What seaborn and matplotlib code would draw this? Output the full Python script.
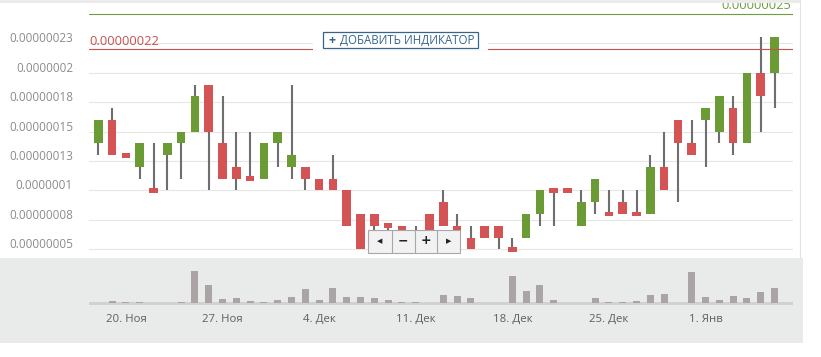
import numpy as np
import pandas as pd
import matplotlib
matplotlib.use("Agg")
import matplotlib.pyplot as plt
import seaborn as sns
from matplotlib.patches import Rectangle
from matplotlib.lines import Line2D
from matplotlib.transforms import ScaledTranslation

# daily candles, prices in units of 1e-8 (satoshi)
dates = pd.date_range("2017-11-18", periods=50, freq="D")
opens = [14, 16, 13.2, 12, 10.2, 13, 14, 15, 19, 14,
         12, 11.2, 11, 14, 12, 12, 11, 11, 10, 8,
         8, 7.2, 7, 6, 8, 9, 7, 6, 7, 7,
         5.2, 6, 8, 10.2, 10.2, 7, 9, 8.2, 9, 8.2,
         8, 12, 16, 14, 16, 15, 17, 14, 20, 20]
closes = [16, 13, 12.8, 14, 9.8, 14, 15, 18, 15, 11,
          11, 10.8, 14, 15, 13, 11, 10, 10, 7, 5,
          7, 6.8, 6, 5.5, 6, 7, 6, 5, 6, 6,
          4.8, 8, 10, 9.8, 9.8, 9, 11, 7.8, 8, 7.8,
          12, 10, 14, 13, 17, 18, 14, 20, 18, 23]
highs = [16, 17, 13.2, 14, 14, 14, 15, 19, 19, 18,
         15, 15, 14, 15, 19, 12, 11, 13, 10, 8,
         8, 7.2, 7, 7, 8, 10, 8, 7, 7, 7,
         6, 8, 10, 10.2, 10.2, 10, 11, 10, 10, 10,
         13, 15, 16, 16, 17, 18, 18, 20, 23, 23]
lows = [13, 13, 12.8, 11, 9.8, 10, 11, 15, 10, 11,
        10, 10.8, 11, 12, 11, 10, 10, 10, 7, 5,
        6, 6.5, 6, 5, 6, 7, 5.5, 5, 6, 5,
        4.8, 6, 7, 7, 9.8, 7, 8, 7.8, 8, 7.8,
        8, 10, 9, 13, 12, 14, 13, 14, 15, 17]
volumes = [0, 2.3, 1.7, 1.7, 0, 0.7, 1.3, 32, 18.3, 4.3,
           5.3, 2.3, 1.3, 3.3, 6.3, 14.3, 3.3, 15.3, 6.3, 6.3,
           5.3, 3.3, 1.3, 1.3, 0.3, 8.3, 7.3, 5.3, 0, 0,
           27.3, 12.3, 18.3, 3.3, 0.3, 0, 5.3, 1.3, 1.3, 2.3,
           8.3, 9.3, 0.3, 31.3, 6.3, 3.3, 7.3, 5.3, 11.3, 15.3]

ytick_values = [5, 7.5, 10, 12.5, 15, 17.5, 20, 22.5]
ytick_labels = ["0.00000005", "0.00000008", "0.0000001", "0.00000013",
                "0.00000015", "0.00000018", "0.0000002", "0.00000023"]
month_names = {11: "Ноя", 12: "Дек", 1: "Янв"}
red_level, red_label = 22, "0.00000022"
green_level, green_label = 25, "0.00000025"

W, H = 821, 357
GREEN = "#6b9b34"
RED = "#d45455"
WICK = "#6e6e6e"
VOL = "#aaa4a4"
NAV_BG = "#e9eaea"
BTN = "#36658c"

sns.set_theme(style="white")
plt.rcParams["font.family"] = ["Open Sans", "DejaVu Sans"]

fig = plt.figure(figsize=(W / 100, H / 100), dpi=100)


def box(x0, y0, x1, y1):
    # pixel box (origin top-left) -> figure fraction rect
    return [x0 / W, 1 - y1 / H, (x1 - x0) / W, (y1 - y0) / H]


def fig_rect(x0, y0, x1, y1, z, **kw):
    l, b, w, h = box(x0, y0, x1, y1)
    fig.add_artist(Rectangle((l, b), w, h, transform=fig.transFigure, zorder=z, **kw))


def fig_line(xs, ys, z, **kw):
    fig.add_artist(Line2D([v / W for v in xs], [1 - v / H for v in ys],
                          transform=fig.transFigure, zorder=z, **kw))


ax = fig.add_axes(box(89, 3, 793, 258))
axv = fig.add_axes(box(89, 258, 793, 305))

x = np.arange(len(dates))
o, c = np.array(opens), np.array(closes)
colors = np.where(c >= o, GREEN, RED)

# candles
ax.vlines(x, lows, highs, color=WICK, lw=1.5, zorder=2)
ax.bar(x, np.abs(c - o), bottom=np.minimum(o, c), width=0.63,
       color=colors, linewidth=0, zorder=3)

ax.set_xlim(-0.674, 50.34)
ax.set_ylim(4.26, 25.93)
ax.set_yticks(ytick_values, ytick_labels)
ax.set_xticks([])
ax.grid(axis="y", color="#e6e6e6", lw=0.8)
ax.grid(axis="x", visible=False)
ax.set_axisbelow(True)
for s in ax.spines.values():
    s.set_visible(False)
ax.tick_params(axis="y", length=0, pad=11.5, labelsize=8.5, labelcolor="#8c8c8c")
for lab in ax.get_yticklabels():
    lab.set_transform(lab.get_transform() + ScaledTranslation(0, 0.06, fig.dpi_scale_trans))

# price lines
ax.axhline(red_level, color="#c8504d", lw=0.8, zorder=4)
ax.axhline(green_level, color="#6f9c3e", lw=0.8, zorder=4)
ax.annotate(red_label, xy=(0, red_level), xycoords=("axes fraction", "data"),
            xytext=(0, 5.3), textcoords="offset points", ha="left", va="center",
            color="#c8504d", fontsize=9.3, annotation_clip=False)
ax.annotate(green_label, xy=(1, green_level), xycoords=("axes fraction", "data"),
            xytext=(-1, 6.2), textcoords="offset points", ha="right", va="center",
            color="#6f9c3e", fontsize=9.3, annotation_clip=False)

# navigator with volume bars
fig_rect(0, 258, 803, 343, -1, color=NAV_BG, lw=0)
vol_df = pd.DataFrame({"day": x, "volume": volumes})
sns.barplot(data=vol_df, x="day", y="volume", native_scale=True, color=VOL,
            saturation=1, width=0.5, errorbar=None, linewidth=0, ax=axv, zorder=3)
axv.axhline(0, color="#d2d0d0", lw=2.2, zorder=2)
axv.patch.set_visible(False)
axv.set_xlim(-0.674, 50.34)
axv.set_ylim(-1.7, 45.3)
mondays = [i for i, d in enumerate(dates) if d.weekday() == 0]
axv.set_xticks(mondays, [f"{dates[i].day}. {month_names[dates[i].month]}" for i in mondays])
axv.set_yticks([])
axv.set_xlabel("")
axv.set_ylabel("")
axv.tick_params(axis="x", length=0, pad=6.3, labelsize=8.2, labelcolor="#5e5e5e")
for s in axv.spines.values():
    s.set_visible(False)

# chart frame bits
fig_rect(0, 0, 800, 3, 10, color="#ebebeb", lw=0)
fig_line([800, 800], [0, 258], 10, color="#e2e2e2", lw=0.8)

# "add indicator" button
fig_rect(313, 31, 488, 50, 5, color="white", lw=0)
fig_rect(323, 32, 478, 48.3, 6, facecolor="white", edgecolor=BTN, lw=0.9)
fig.text(331.5 / W, 1 - 40.5 / H, "+", ha="center", va="center", color=BTN,
         fontsize=9, fontweight="bold", zorder=7)
fig.text(340 / W, 1 - 40.5 / H, "ДОБАВИТЬ ИНДИКАТОР", ha="left", va="center",
         color=BTN, fontsize=8.3, zorder=7)

# zoom / pan control
fig_rect(368, 229.5, 459.5, 252.5, 6, facecolor="#f2f2f2", edgecolor="#a8a8a8", lw=0.8)
for xd in [391.7, 414.7, 437.3]:
    fig_line([xd, xd], [229.5, 252.5], 7, color="#a8a8a8", lw=0.8)
for xc, sym, fs in [(380, "◀", 5), (403, "−", 9), (426, "+", 9), (448.3, "▶", 5)]:
    fig.text(xc / W, 1 - 241 / H, sym, ha="center", va="center", fontsize=fs,
             fontweight="bold", color="#222222", zorder=8, family=["DejaVu Sans"])

fig.savefig("out.png", dpi=100)
